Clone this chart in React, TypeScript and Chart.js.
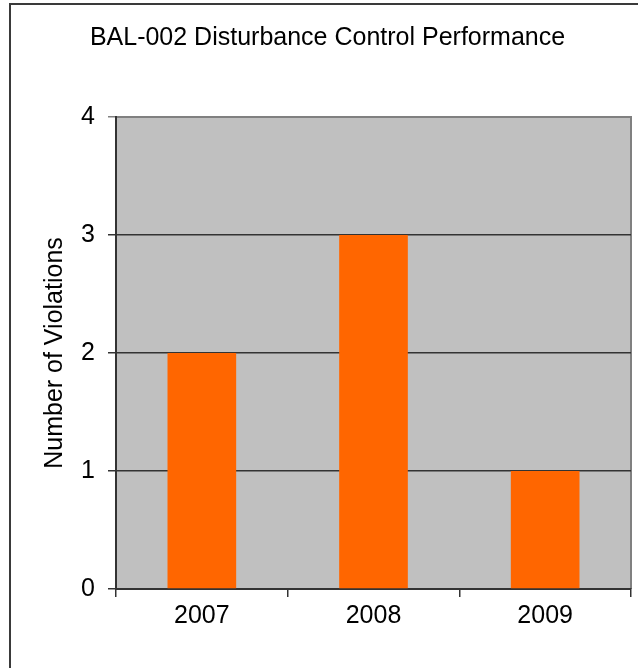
import React, { useEffect, useRef } from "react";
import { Chart, registerables } from "chart.js";

Chart.register(...registerables);

const categories = ["2007", "2008", "2009"];
const violations = [2, 3, 1];
const yTicks = [0, 1, 2, 3, 4];
const chartTitle = "BAL-002 Disturbance Control Performance";
const yAxisTitle = "Number of Violations";

const FONT = "'Liberation Sans', Arial, sans-serif";

const backgroundPlugin = {
  id: "plotBackground",
  beforeDraw(chart: any) {
    const { ctx, chartArea } = chart;
    const { left, top, right, bottom } = chartArea;
    ctx.save();
    // outer chart border (extends beyond the cropped view)
    ctx.strokeStyle = "#3a3a3a";
    ctx.lineWidth = 2;
    ctx.strokeRect(10, 4, 1000, 1000);
    // plot area
    ctx.fillStyle = "#C0C0C0";
    ctx.fillRect(left, top, right - left, bottom - top);
    ctx.strokeStyle = "#808080";
    ctx.lineWidth = 2;
    ctx.beginPath();
    ctx.moveTo(left, top);
    ctx.lineTo(right, top);
    ctx.lineTo(right, bottom);
    ctx.stroke();
    ctx.restore();
  },
};

export default function App() {
  const ref = useRef<HTMLCanvasElement | null>(null);

  useEffect(() => {
    if (!ref.current) return;
    const chart = new Chart(ref.current, {
      type: "bar",
      data: {
        labels: categories,
        datasets: [
          {
            data: violations,
            backgroundColor: "#FF6600",
            borderWidth: 0,
            categoryPercentage: 1,
            barPercentage: 0.4,
          },
        ],
      },
      options: {
        responsive: false,
        animation: false,
        layout: { padding: { left: 24, right: 7, top: 0, bottom: 0 } },
        plugins: {
          legend: { display: false },
          tooltip: { enabled: false },
          title: {
            display: true,
            text: chartTitle,
            color: "#000",
            font: { family: FONT, size: 25, weight: "normal" as any, lineHeight: 1.2 },
            padding: { top: 23, bottom: 64 },
          },
        },
        scales: {
          x: {
            offset: true,
            grid: {
              offset: true,
              drawOnChartArea: false,
              drawTicks: true,
              tickLength: 8,
              color: "#333",
              lineWidth: 1.5,
            },
            border: { display: true, color: "#333", width: 2 },
            ticks: {
              color: "#000",
              padding: 4,
              font: { family: FONT, size: 25, lineHeight: 1.2 },
            },
            afterFit(axis: any) {
              axis.height = 79;
            },
          },
          y: {
            min: 0,
            max: 4,
            afterBuildTicks(axis: any) {
              axis.ticks = yTicks.map((v) => ({ value: v }));
            },
            grid: {
              color: (c: any) => (c.tick && c.tick.value === 4 ? "#808080" : "#333"),
              lineWidth: 1.5,
              tickLength: 8,
            },
            border: { display: true, color: "#333", width: 2 },
            ticks: {
              color: "#000",
              padding: 13,
              font: { family: FONT, size: 25, lineHeight: 1.2 },
            },
            title: {
              display: true,
              text: yAxisTitle,
              color: "#000",
              font: { family: FONT, size: 25, lineHeight: 1.2 },
              padding: { top: 16.5, bottom: 0 },
            },
            afterFit(axis: any) {
              axis.width = 92;
            },
          },
        },
      },
      plugins: [backgroundPlugin],
    });
    return () => chart.destroy();
  }, []);

  return (
    <div style={{ position: "fixed", left: 0, top: 0, width: 638, height: 668, background: "#fff" }}>
      <canvas ref={ref} width={638} height={668} style={{ display: "block" }} />
    </div>
  );
}
